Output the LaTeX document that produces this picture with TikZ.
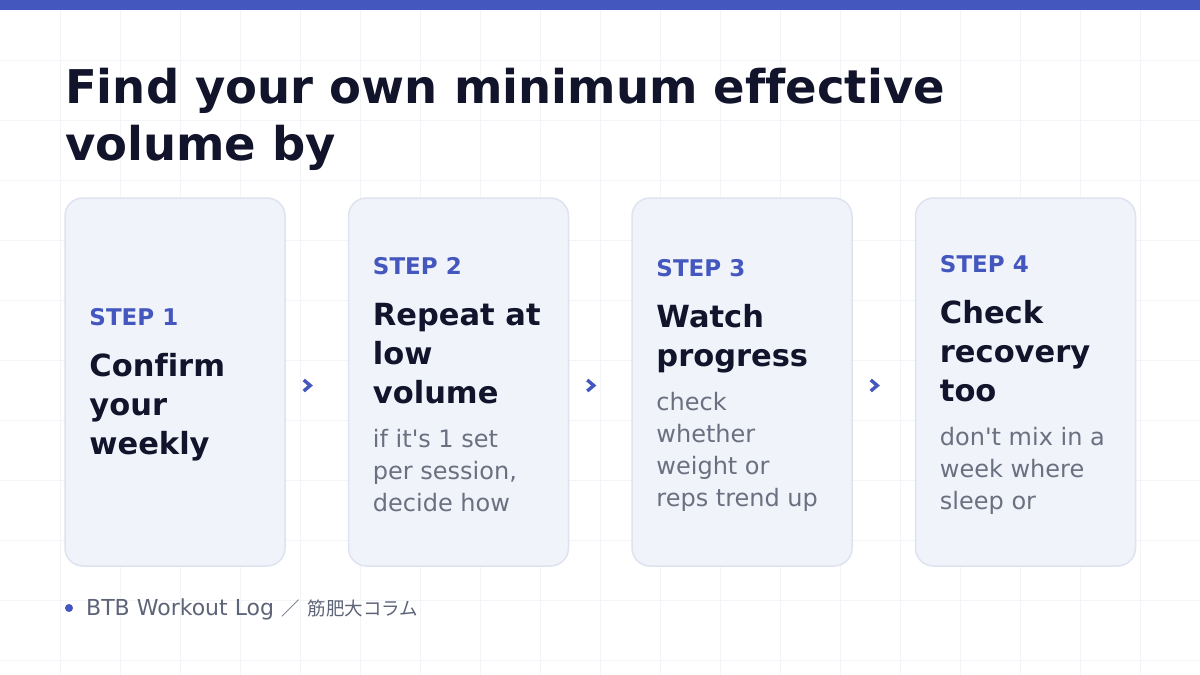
\documentclass[tikz,border=0pt]{standalone}
\usepackage{fontspec}
\setmainfont{DejaVu Sans}[Ligatures=NoCommon]
\newfontfamily\cjk{Noto Sans CJK JP}
\usetikzlibrary{positioning,calc}

\definecolor{accent}{HTML}{4457BE}
\definecolor{ink}{HTML}{11142A}
\definecolor{muted}{HTML}{6B7080}
\definecolor{footgray}{HTML}{5E6478}
\definecolor{cardfill}{HTML}{F1F3FB}
\definecolor{cardline}{HTML}{DFE3F0}
\definecolor{gridline}{HTML}{F3F4F8}

\newcommand{\steplabel}[1]{{\color{accent}\fontsize{23}{30}\selectfont\bfseries\spaceskip=0pt #1\par}}
\newcommand{\steptitle}[1]{\vspace{12pt}{\color{ink}\fontsize{30.5}{39}\selectfont\bfseries\spaceskip=0pt #1\par}}
\newcommand{\stepbody}[1]{\vspace{12pt}{\color{muted}\fontsize{24}{32}\selectfont\spaceskip=0pt #1\par}}

\tikzset{
  heading/.style={anchor=base west, inner sep=0pt, text=ink, font=\fontsize{46.5}{57}\selectfont\bfseries},
  card/.style={draw=cardline, line width=1.5pt, fill=cardfill, rounded corners=18pt,
    minimum width=220pt, minimum height=368pt, inner sep=0pt},
  cardtext/.style={anchor=west, text width=215pt, align=left, inner sep=0pt},
  chevron/.style={draw=accent, line width=3.4pt},
  source/.style={anchor=base west, inner sep=0pt, text=footgray, font=\fontsize{22}{24}\selectfont},
}

\begin{document}
\begin{tikzpicture}[x=1pt, y=-1pt]
  % canvas, faint grid, top bar
  \useasboundingbox (0,0) rectangle (1200,675);
  \fill[white] (0,0) rectangle (1200,675);
  \foreach \gx in {60,120,...,1140} \draw[gridline] (\gx,10) -- (\gx,675);
  \foreach \gy in {60,120,...,660} \draw[gridline] (0,\gy) -- (1200,\gy);
  \fill[accent] (0,0) rectangle (1200,10);

  % heading
  \node[heading] (title) at (65,103) {Find your own minimum effective};
  \node[heading] (title2) at (65,160) {volume by};

  % step cards
  \node[card] (card1) at (175,382) {};
  \node[card, right=62pt of card1] (card2) {};
  \node[card, right=62pt of card2] (card3) {};
  \node[card, right=62pt of card3] (card4) {};

  \node[cardtext] (step1) at ($(card1.west)+(25,3)$) {%
    \steplabel{STEP 1}\steptitle{Confirm\\your\\weekly}};
  \node[cardtext] (step2) at ($(card2.west)+(25,3)$) {%
    \steplabel{STEP 2}\steptitle{Repeat at\\low\\volume}%
    \stepbody{if it\textquotesingle s 1 set\\per session,\\decide how}};
  \node[cardtext] (step3) at ($(card3.west)+(25,3)$) {%
    \steplabel{STEP 3}\steptitle{Watch\\progress}%
    \stepbody{check\\whether\\weight or\\reps trend up}};
  \node[cardtext] (step4) at ($(card4.west)+(25,3)$) {%
    \steplabel{STEP 4}\steptitle{Check\\recovery\\too}%
    \stepbody{don\textquotesingle t mix in a\\week where\\sleep or}};

  % chevrons between cards
  \foreach \a in {card1,card2,card3}
    \draw[chevron] ($(\a.east)+(18,-2)$) -- ++(6.5,5.5) -- ++(-6.5,5.5);

  % source line
  \node[circle, fill=accent, inner sep=0pt, minimum size=8pt] (dot) at (69,608) {};
  \node[source] (source) at ($(dot)+(17,7)$)
    {BTB Workout Log {\cjk\fontsize{18.5}{24}\selectfont ／\hspace{8pt}筋肥大コラム}};
\end{tikzpicture}
\end{document}
